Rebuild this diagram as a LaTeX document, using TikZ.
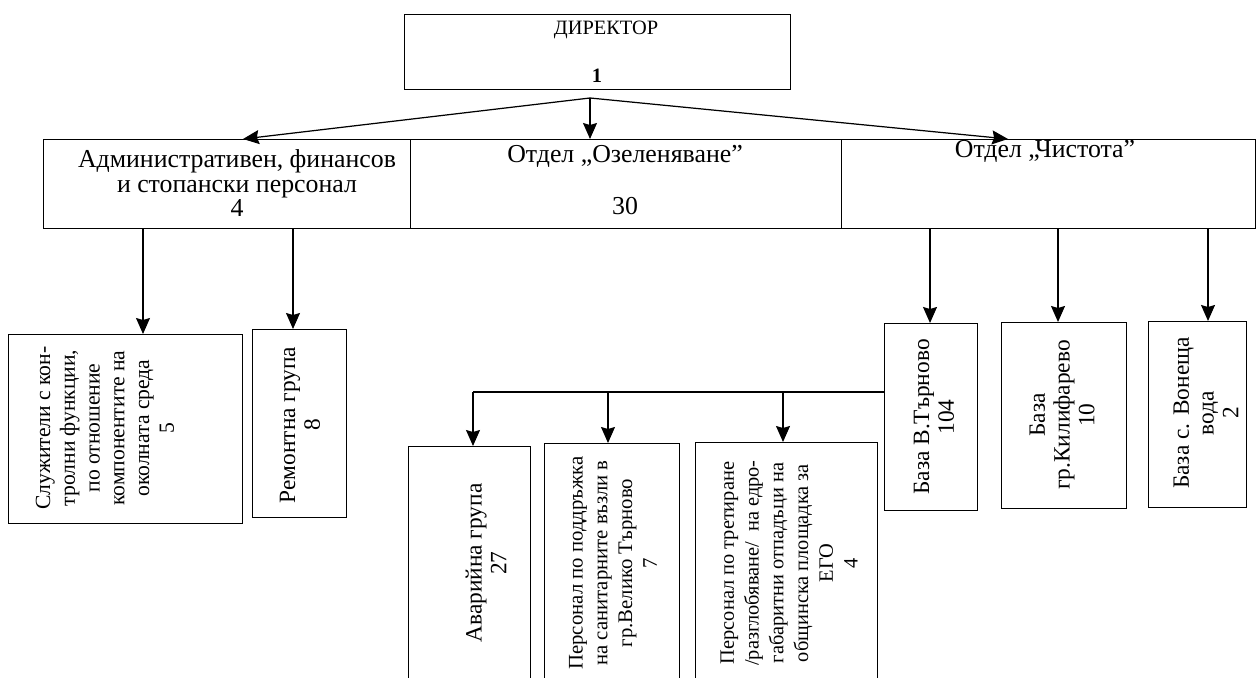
\documentclass[tikz,border=0pt]{standalone}
\usepackage{fontspec}
\setmainfont{Liberation Serif}
\usetikzlibrary{arrows.meta}

\tikzset{
	cadre/.style={draw, line width=0.7pt, anchor=north west, inner sep=0pt},
	taille/.style 2 args={minimum width=#1*0.02cm, minimum height=#2*0.02cm},
	texte/.style={align=center, inner sep=0pt, font=\fontsize{14.7}{14.1}\selectfont},
	debout/.style={align=center, inner sep=0pt, rotate=90, font=\fontsize{#1}{14.1}\selectfont},
	debout/.default=13.3,
	fleche/.style={line width=0.7pt, -{Stealth[length=0.32cm,width=0.28cm,inset=0.04cm]}},
}

\begin{document}
\begin{tikzpicture}[x=0.02cm,y=-0.02cm]
	\clip (0,0) rectangle (1256,678); % le cadre de l'image

	% le directeur
	\node[cadre, taille={386}{75}] (dir) at (404,14) {};
	\node[font=\fontsize{11.6}{13}\selectfont, anchor=base] (dirT) at (606,35) {ДИРЕКТОР};
	\node[font=\bfseries\fontsize{11.6}{13}\selectfont, anchor=base] (dirN) at (597,83) {1};

	% les trois services
	\node[cadre, taille={367}{89}] (admin) at (43,139) {};
	\node[cadre, taille={431}{89}] (ozel) at (410,139) {};
	\node[cadre, taille={414}{89}] (chist) at (841,139) {};
	\node[texte, anchor=north] (adminT) at (237,149) {Административен, финансов\\и стопански персонал\\4};
	\node[texte, anchor=base] (ozelT) at (625,163) {Отдел „Озеленяване”};
	\node[texte, anchor=base] (ozelN) at (625,215) {30};
	\node[texte, anchor=base] (chistT) at (1045,158) {Отдел „Чистота”};

	\coordinate (sommet) at (590,98);
	\coordinate (g) at (243,0);
	\coordinate (c) at (590,0);
	\coordinate (d) at (1008,0);
	\draw[fleche] (sommet) -- (admin.north -| g);
	\draw[fleche] (sommet) -- (ozel.north -| c);
	\draw[fleche] (sommet) -- (chist.north -| d);

	% sous le personnel administratif
	\node[cadre, taille={234}{189}] (serv) at (8,334) {};
	\node[cadre, taille={94}{188}] (rem) at (252,329) {};
	\node[debout=12.3] (servT) at (105,428) {Служители с кон-\\тролни функции,\\по отношение\\компонентите на\\околната среда\\5};
	\node[debout] (remT) at (300,425) {Ремонтна група\\8};
	\coordinate (a1) at (143,0);
	\coordinate (a2) at (293,0);
	\draw[fleche] (admin.south -| a1) -- (serv.north -| a1);
	\draw[fleche] (admin.south -| a2) -- (rem.north -| a2);

	% les bases
	\node[cadre, taille={93}{187}] (btar) at (884,323) {};
	\node[cadre, taille={125}{186}] (bkil) at (1001,322) {};
	\node[cadre, taille={98}{186}] (bvon) at (1148,321) {};
	\node[debout] (btarT) at (934,417) {База В.Търново\\104};
	\node[debout] (bkilT) at (1062,415) {База\\гр.Килифарево\\10};
	\node[debout] (bvonT) at (1206,413) {База с. Вонеща\\вода\\2};
	\coordinate (b1) at (930,0);
	\coordinate (b2) at (1058,0);
	\coordinate (b3) at (1208,0);
	\draw[fleche] (chist.south -| b1) -- (btar.north -| b1);
	\draw[fleche] (chist.south -| b2) -- (bkil.north -| b2);
	\draw[fleche] (chist.south -| b3) -- (bvon.north -| b3);

	% les groupes sous la base
	\node[cadre, taille={122}{240}] (avar) at (408,446) {};
	\node[cadre, taille={135}{241}] (podd) at (544,443) {};
	\node[cadre, taille={182}{242}] (tret) at (695,442) {};
	\node[debout] (avarT) at (486,563) {Аварийна група\\27};
	\node[debout=11.8] (poddT) at (613,563) {Персонал по поддръжка\\на санитарните възли в\\гр.Велико Търново\\7};
	\node[debout=11.6] (tretT) at (789,563) {Персонал по третиране\\/разглобяване/ \ на едро-\\габаритни отпадъци на\\общинска площадка за\\ЕГО\\4};
	\coordinate (embr) at (473,392);
	\coordinate (e2) at (608,0);
	\coordinate (e3) at (783,0);
	\draw[line width=0.7pt] (btar.west |- embr) -- (embr);
	\draw[fleche] (embr) -- (avar.north -| embr);
	\draw[fleche] (embr -| e2) -- (podd.north -| e2);
	\draw[fleche] (embr -| e3) -- (tret.north -| e3);
\end{tikzpicture}
\end{document}
